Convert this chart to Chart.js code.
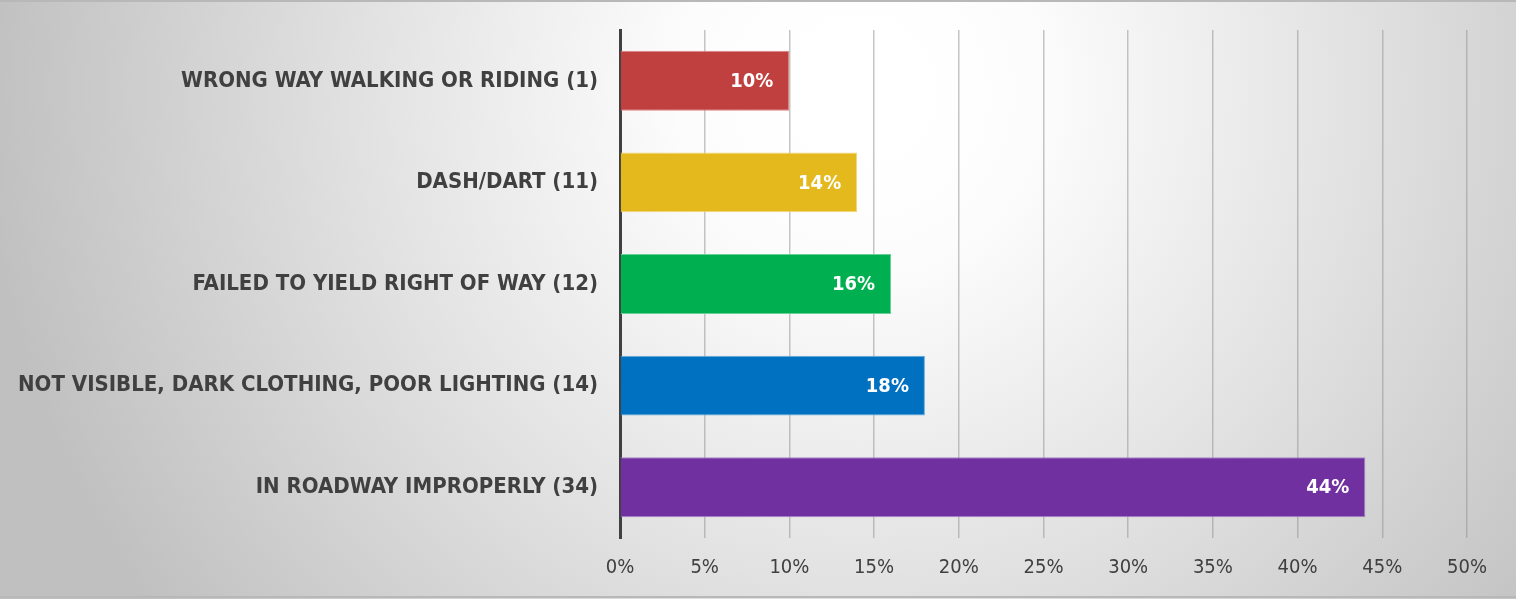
<!DOCTYPE html>
<html><head><meta charset="utf-8">
<script src="https://cdn.jsdelivr.net/npm/chart.js@4"></script>
<style>html,body{margin:0;padding:0;background:#fff;}#wrap{width:1516px;height:599px;}</style>
</head><body><div id="wrap"><canvas id="c" width="1516" height="599"></canvas></div>
<script>
const categories = [
  "WRONG WAY WALKING OR RIDING (1)",
  "DASH/DART (11)",
  "FAILED TO YIELD RIGHT OF WAY (12)",
  "NOT VISIBLE, DARK CLOTHING, POOR LIGHTING (14)",
  "IN ROADWAY IMPROPERLY (34)"
];
const shares = [10, 14, 16, 18, 44];
const barColors = ["#C0403F", "#E4B91E", "#00B050", "#0070C0", "#7030A0"];
const barBorders = ["#DA8584", "#F1D77A", "#66D096", "#66A9D9", "#A983C6"];
const xTicks = [0, 5, 10, 15, 20, 25, 30, 35, 40, 45, 50];

const FONT = '"DejaVu Sans Condensed", "DejaVu Sans", sans-serif';

const bgPlugin = {
  id: 'bg',
  beforeDraw(chart) {
    const ctx = chart.ctx, w = chart.width, h = chart.height;
    ctx.save();
    const g = ctx.createRadialGradient(860, 90, 60, 860, 90, 880);
    g.addColorStop(0, '#ffffff');
    g.addColorStop(0.15, '#fcfcfc');
    g.addColorStop(0.5, '#e4e4e4');
    g.addColorStop(1, '#c0c0c0');
    ctx.fillStyle = g;
    ctx.fillRect(0, 0, w, h);
    ctx.strokeStyle = '#b8b8b8';
    ctx.lineWidth = 2;
    ctx.beginPath();
    ctx.moveTo(0, 1); ctx.lineTo(w, 1);
    ctx.moveTo(0, h - 2); ctx.lineTo(w, h - 2);
    ctx.stroke();
    ctx.restore();
  }
};
const labelPlugin = {
  id: 'vals',
  afterDatasetsDraw(chart) {
    const ctx = chart.ctx;
    const meta = chart.getDatasetMeta(0);
    ctx.save();
    ctx.font = 'bold 20px ' + FONT;
    ctx.fillStyle = '#ffffff';
    ctx.textAlign = 'right';
    ctx.textBaseline = 'middle';
    meta.data.forEach((el, i) => {
      ctx.fillText(shares[i] + '%', el.x - 16, el.y + 1);
    });
    ctx.restore();
  }
};

new Chart(document.getElementById('c'), {
  type: 'bar',
  data: {
    labels: categories,
    datasets: [{
      data: shares,
      backgroundColor: barColors,
      borderColor: barBorders,
      borderWidth: 1,
      borderSkipped: 'start',
      barPercentage: 0.59,
      categoryPercentage: 1.0
    }]
  },
  options: {
    indexAxis: 'y',
    responsive: false,
    animation: false,
    layout: { padding: { top: 30, right: 49, bottom: 1, left: 0 } },
    plugins: { legend: { display: false }, tooltip: { enabled: false } },
    scales: {
      x: {
        min: 0, max: 50,
        afterBuildTicks(scale) { scale.ticks = xTicks.map(v => ({ value: v })); },
        ticks: {
          callback: v => v + '%',
          color: '#404040',
          font: { family: FONT, size: 20 },
          padding: 18,
          maxRotation: 0
        },
        grid: { color: 'rgba(150,150,150,0.55)', lineWidth: 1.5, drawTicks: false },
        border: { display: false }
      },
      y: {
        afterFit(scale) { scale.width = 620; scale.paddingTop = 0; scale.paddingBottom = 0; },
        ticks: {
          color: '#404040',
          font: { family: FONT, size: 22, weight: 'bold' },
          padding: 22
        },
        grid: { display: false, drawTicks: false },
        border: { display: true, color: '#404040', width: 3 }
      }
    }
  },
  plugins: [bgPlugin, labelPlugin]
});
</script></body></html>
